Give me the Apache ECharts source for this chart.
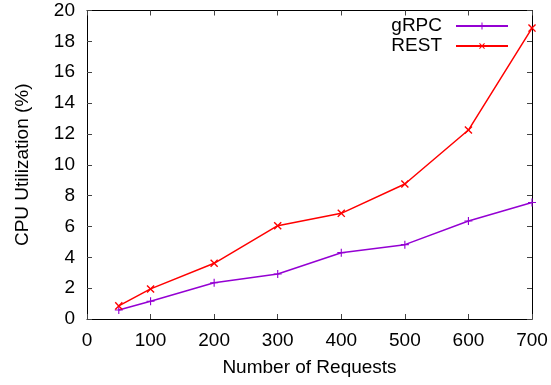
<!DOCTYPE html>
<html>
<head>
<meta charset="utf-8">
<script src="https://cdn.jsdelivr.net/npm/echarts@6/dist/echarts.min.js"></script>
<style>
  html, body { margin: 0; padding: 0; background: #fff; }
  #chart { width: 551px; height: 385px; }
</style>
</head>
<body>
<div id="chart"></div>
<script>
// Request counts and measured CPU utilization (%)
const requests = [50, 100, 200, 300, 400, 500, 600, 700];
const grpcCpu = [0.58, 1.15, 2.35, 2.92, 4.30, 4.82, 6.35, 7.55];
const restCpu = [0.85, 1.95, 3.61, 6.05, 6.85, 8.75, 12.25, 18.86];

const FONT = '"Liberation Sans", Arial, sans-serif';
// thin "+" glyph; rotated 45 degrees it becomes the "x" marker
const plusPath = 'path://M4.3,0H5.7V4.3H10V5.7H5.7V10H4.3V5.7H0V4.3H4.3Z';

function pairs(xs, ys) { return xs.map((x, i) => [x, ys[i]]); }

const chart = echarts.init(document.getElementById('chart'), null, { renderer: 'canvas' });

const axisCommon = {
  axisLine: { show: true, onZero: false, lineStyle: { color: '#000', width: 1 } },
  axisTick: { show: true, inside: true, length: 5, lineStyle: { color: '#444', width: 1 } },
  splitLine: { show: false }
};

chart.setOption({
  animation: false,
  backgroundColor: '#fff',
  textStyle: { fontFamily: FONT },
  grid: { left: 87, right: 19, top: 10.5, bottom: 66, containLabel: false },
  legend: {
    orient: 'vertical',
    right: 42,
    top: 16,
    padding: 0,
    align: 'right',
    itemWidth: 52,
    itemHeight: 9,
    itemGap: 0,
    textStyle: { fontFamily: FONT, fontSize: 19, lineHeight: 20, color: '#000', padding: [0, 9, 0, 0] },
    data: ['gRPC', 'REST']
  },
  xAxis: [
    Object.assign({}, axisCommon, {
      type: 'value', min: 0, max: 700, interval: 100, position: 'bottom',
      name: 'Number of Requests', nameLocation: 'middle', nameGap: 39,
      nameTextStyle: { fontFamily: FONT, fontSize: 19, color: '#000' },
      axisLabel: { fontFamily: FONT, fontSize: 19, color: '#000', margin: 12 }
    }),
    Object.assign({}, axisCommon, {
      type: 'value', min: 0, max: 700, interval: 100, position: 'top',
      axisLabel: { show: false }
    })
  ],
  yAxis: [
    Object.assign({}, axisCommon, {
      type: 'value', min: 0, max: 20, interval: 2, position: 'left',
      name: 'CPU Utilization (%)', nameLocation: 'middle', nameGap: 55,
      nameTextStyle: { fontFamily: FONT, fontSize: 19, color: '#000' },
      axisLabel: { fontFamily: FONT, fontSize: 19, color: '#000', margin: 12 }
    }),
    Object.assign({}, axisCommon, {
      type: 'value', min: 0, max: 20, interval: 2, position: 'right',
      axisLabel: { show: false }
    })
  ],
  series: [
    {
      name: 'gRPC', type: 'line', xAxisIndex: 0, yAxisIndex: 0,
      data: pairs(requests, grpcCpu),
      symbol: plusPath, symbolSize: 8, showAllSymbol: true,
      lineStyle: { color: '#9400d3', width: 1.5 },
      itemStyle: { color: '#9400d3' }
    },
    {
      name: 'REST', type: 'line', xAxisIndex: 0, yAxisIndex: 0,
      data: pairs(requests, restCpu),
      symbol: plusPath, symbolSize: 10, symbolRotate: 45, showAllSymbol: true,
      lineStyle: { color: '#ff0000', width: 1.5 },
      itemStyle: { color: '#ff0000' }
    }
  ]
});
</script>
</body>
</html>
